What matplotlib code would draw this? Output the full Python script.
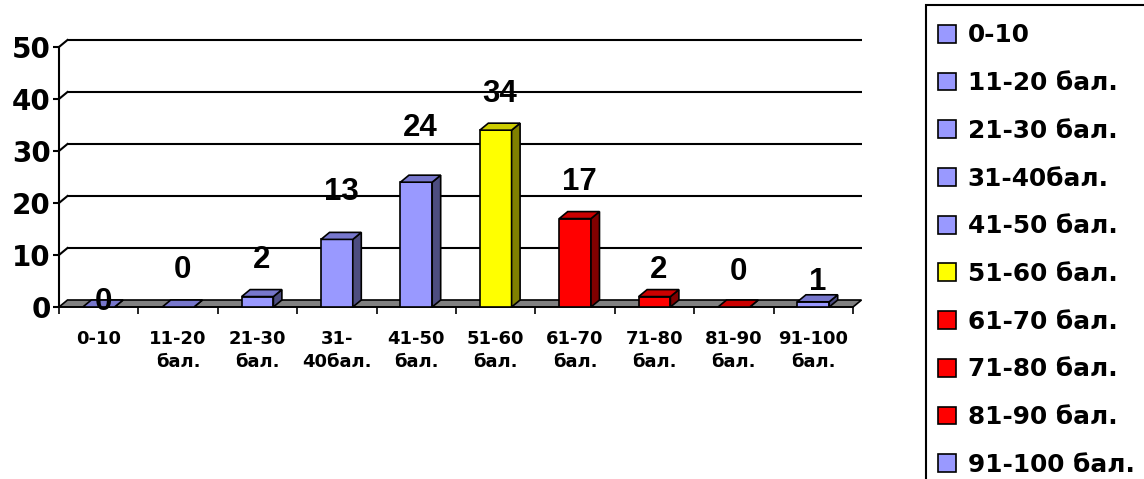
import matplotlib
matplotlib.use('Agg')
import matplotlib.pyplot as plt
from matplotlib.patches import Polygon, Patch, Rectangle
import numpy as np

# data
categories = ['0-10', '11-20\nбал.', '21-30\nбал.', '31-\n40бал.', '41-50\nбал.',
              '51-60\nбал.', '61-70\nбал.', '71-80\nбал.', '81-90\nбал.', '91-100\nбал.']
legend_labels = ['0-10', '11-20 бал.', '21-30 бал.', '31-40бал.', '41-50 бал.',
                 '51-60 бал.', '61-70 бал.', '71-80 бал.', '81-90 бал.', '91-100 бал.']
values = [0, 0, 2, 13, 24, 34, 17, 2, 0, 1]
y_ticks = [0, 10, 20, 30, 40, 50]

# styles
front_col = {'blue': '#9999FF', 'yellow': '#FFFF00', 'red': '#FF0000'}
top_col = {'blue': '#7777CC', 'yellow': '#CCCC00', 'red': '#CC0000'}
side_col = {'blue': '#4D4D80', 'yellow': '#808000', 'red': '#800000'}
bar_kind = ['blue'] * 5 + ['yellow'] + ['red'] * 3 + ['blue']
label_lift = [-2, 30, 30, 40, 47, 29, 30, 20, 28, 13]  # pixels above bar top

W, H = 1144, 479
fig = plt.figure(figsize=(W / 100, H / 100), dpi=100)
ax = fig.add_axes([59 / W, (H - 307) / H, 806 / W, 272 / H])
ax.set_xlim(-0.5, 9.651)
ax.set_ylim(0, 52.3)

dx = 8.5 / 79.4   # depth offset in category units
dy = 7 / 5.2      # depth offset in value units
bw = 0.40
n = len(values)

# back-wall gridlines with diagonal connectors
for t in y_ticks[1:]:
    ax.plot([-0.5 + dx, n - 0.5 + dx], [t + dy, t + dy], color='black', lw=1.5,
            zorder=1, clip_on=False, solid_capstyle='butt')
    ax.plot([-0.5, -0.5 + dx], [t, t + dy], color='black', lw=1.5, zorder=1, clip_on=False)

# floor
floor = Polygon([(-0.5, 0), (n - 0.5, 0), (n - 0.5 + dx, dy), (-0.5 + dx, dy)],
                closed=True, facecolor='#808080', edgecolor='black', lw=1.2, zorder=2,
                clip_on=False)
ax.add_patch(floor)

# bars: front, top, side faces
x = np.arange(n)
fronts = [front_col[k] for k in bar_kind]
ax.bar(x, values, width=bw, color=fronts, edgecolor='black', lw=1.2, zorder=3)
for i, v in enumerate(values):
    k = bar_kind[i]
    l, r = i - bw / 2, i + bw / 2
    top = Polygon([(l, v), (r, v), (r + dx, v + dy), (l + dx, v + dy)], closed=True,
                  facecolor=top_col[k], edgecolor='black', lw=1.2, zorder=3, clip_on=False)
    side = Polygon([(r, 0), (r + dx, dy), (r + dx, v + dy), (r, v)], closed=True,
                   facecolor=side_col[k], edgecolor='black', lw=1.2, zorder=3, clip_on=False)
    ax.add_patch(side)
    ax.add_patch(top)
    ax.annotate(str(v), (i + dx / 2, v + dy), xytext=(0, label_lift[i]),
                textcoords='offset pixels', ha='center', va='center',
                fontsize=22.5, fontweight='bold', family='Liberation Sans', zorder=5)

# axes styling
for s in ['top', 'right']:
    ax.spines[s].set_visible(False)
ax.spines['left'].set_bounds(0, 50)
ax.spines['left'].set_linewidth(1.5)
ax.spines['bottom'].set_bounds(-0.5, n - 0.5)
ax.spines['bottom'].set_linewidth(1.2)

ax.set_yticks(y_ticks)
ax.set_yticklabels([str(t) for t in y_ticks], fontsize=20, fontweight='bold')
ax.tick_params(axis='y', direction='out', length=4, width=1.5, pad=2)

ax.set_xticks(np.arange(-0.5, n, 1))
ax.set_xticklabels([])
ax.tick_params(axis='x', which='major', direction='out', length=5, width=1.2)
ax.set_xticks(x, minor=True)
ax.set_xticklabels(categories, minor=True, fontsize=13, fontweight='bold',
                   linespacing=1.35, va='top')
ax.tick_params(axis='x', which='minor', length=0, pad=16.5)

# legend (frame drawn separately so it runs off the figure edge)
handles = [Patch(facecolor=front_col[k], edgecolor='black', lw=1.2) for k in bar_kind]
leg = fig.legend(handles, legend_labels, loc='upper left',
                 bbox_to_anchor=(926 / W, 1 - 11 / H), bbox_transform=fig.transFigure,
                 prop={'size': 17.8, 'weight': 'bold'}, frameon=False,
                 borderaxespad=0, borderpad=0.5, handlelength=0.73, handleheight=0.73,
                 handletextpad=0.45, labelspacing=0.96)
fig.add_artist(Rectangle((926 / W, -0.1), 0.5, 1.1 - 5 / H, transform=fig.transFigure,
                         fill=False, edgecolor='black', lw=1.5))

fig.savefig('out.png', dpi=100)
